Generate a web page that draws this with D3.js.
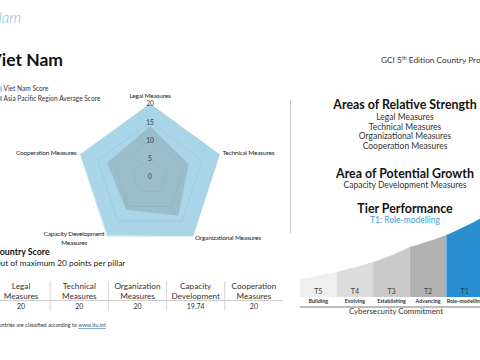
<!DOCTYPE html>
<html><head><meta charset="utf-8">
<script src="https://cdn.jsdelivr.net/npm/d3@7"></script>
<style>
html,body{margin:0;padding:0;background:#fff;overflow:hidden}
svg{display:block;font-family:Lato,"Open Sans",sans-serif}
</style></head>
<body>
<svg id="c" width="480" height="360"></svg>
<script>
// ---- data ----
const pillars = ["Legal Measures","Technical Measures","Organizational Measures","Capacity Development Measures","Cooperation Measures"];
const countryScores = [20, 20, 20, 19.74, 20];
const regionAverage = [14, 11.2, 13.1, 11.1, 12.4];
const radialTicks = [0, 5, 10, 15, 20];
const tableHeaders = [["Legal","Measures"],["Technical","Measures"],["Organization","Measures"],["Capacity","Development"],["Cooperation","Measures"]];
const tableValues = ["20","20","20","19.74","20"];
const strengths = ["Legal Measures","Technical Measures","Organizational Measures","Cooperation Measures"];
const growth = ["Capacity Development Measures"];
const tiers = ["T5","T4","T3","T2","T1"];
const tierNames = ["Building","Evolving","Establishing","Advancing","Role-modelling"];
const commitmentCurve = [5.8, 8.1, 11.3, 16.1, 20.0, 25.8]; // curve height at tier boundaries

const svg = d3.select("#c");

// ---- headers ----
svg.append("text").attr("x",21).attr("y",23).attr("text-anchor","end")
  .attr("font-size",15).attr("font-style","italic").attr("font-weight",300).attr("fill","#7db4d6").text("Viet Nam");
svg.append("text").attr("x",63).attr("y",66).attr("text-anchor","end")
  .attr("font-size",17.5).attr("font-weight",700).attr("fill","#111").text("Viet Nam");
const gci = svg.append("text").attr("x",381).attr("y",63).attr("font-size",8.3).attr("fill","#333");
gci.append("tspan").text("GCI 5");
gci.append("tspan").attr("font-size",5.2).attr("dy",-3.5).text("th");
gci.append("tspan").attr("dy",3.5).text(" Edition Country Profile");

// ---- legend ----
const legendItems = [["Viet Nam Score","#a8d6e8"],["Asia Pacific Region Average Score","#9ab6c2"]];
legendItems.forEach((d,i)=>{
  svg.append("rect").attr("x",-3).attr("y",86.5+i*9.5).attr("width",5).attr("height",5).attr("fill",d[1]);
  svg.append("text").attr("x",3.5).attr("y",91.3+i*9.5).attr("font-size",6.6).attr("fill","#333").text(d[0]);
});

// ---- radar ----
const cx = 150, cy = 177;
const r = d3.scaleLinear().domain([0,20]).range([0,73]);
const ang = d3.scaleLinear().domain([0,pillars.length]).range([0,2*Math.PI]);
const radial = d3.lineRadial().angle((d,i)=>ang(i)).radius(d=>r(d)).curve(d3.curveLinearClosed);
const rg = svg.append("g").attr("transform",`translate(${cx},${cy})`);

rg.append("path").attr("d",radial(countryScores)).attr("fill","#a8d6e8");
radialTicks.slice(1).forEach(t=>{
  rg.append("path").attr("d",radial(pillars.map(()=>t))).attr("fill","none")
    .attr("stroke","#93bfcf").attr("stroke-width",0.5);
});
rg.append("path").attr("d",radial(regionAverage)).attr("fill","#7a7a7a").attr("fill-opacity",0.27);

radialTicks.forEach(t=>{
  rg.append("text").attr("x",0).attr("y",-r(t)+2.3).attr("text-anchor","middle")
    .attr("font-size",6.6).attr("fill","#2c3e50").text(t);
});

// axis labels
const labelPos = [
  {a:"middle", dx:0, dy:-6},
  {a:"start", dx:3, dy:1},
  {a:"start", dx:2, dy:4},
  {a:"middle", dx:-33, dy:0},
  {a:"end", dx:-4, dy:1}
];
pillars.forEach((p,i)=>{
  const a = ang(i), R = r(20);
  const x = R*Math.sin(a), y = -R*Math.cos(a);
  const lp = labelPos[i];
  const t = rg.append("text").attr("x",x+lp.dx).attr("y",y+lp.dy).attr("text-anchor",lp.a)
    .attr("font-size",6.5).attr("fill","#222").attr("letter-spacing",-0.2);
  if(i===3){
    t.append("tspan").attr("x",x+lp.dx).text("Capacity Development");
    t.append("tspan").attr("x",x+lp.dx).attr("dy",9).text("Measures");
  } else t.text(p);
});

// separator
svg.append("line").attr("x1",290.5).attr("x2",290.5).attr("y1",100).attr("y2",233).attr("stroke","#c8c8c8").attr("stroke-width",1);

// ---- right panel ----
const rc = 405;
function heading(txt,y){ svg.append("text").attr("x",rc).attr("y",y).attr("text-anchor","middle").attr("font-size",12.4).attr("font-weight",700).attr("fill","#111").text(txt); }
function line(txt,y,col){ svg.append("text").attr("x",rc).attr("y",y).attr("text-anchor","middle").attr("font-size",8.5).attr("fill",col||"#333").text(txt); }
heading("Areas of Relative Strength",108.5);
strengths.forEach((s,i)=>line(s,120+i*9.7));
heading("Area of Potential Growth",178);
growth.forEach((s,i)=>line(s,187.5));
heading("Tier Performance",213);
line("T1: Role-modelling",223,"#3d9bd6");

// tier chart
const tx = d3.scaleLinear().domain([0,5]).range([300,483]);
const ty = d3.scaleLinear().domain([0,20]).range([297,235]);
const tierColors = ["#efefef","#dcdcdc","#c9c9c9","#b1b1b1","#2a8fd0"];
const tg = svg.append("g");
tiers.forEach((t,i)=>{
  const x0 = tx(i), x1 = tx(i+1);
  const pts = d3.range(0,11).map(k=>{
    const f = k/10;
    const v = commitmentCurve[i]*Math.pow(commitmentCurve[i+1]/commitmentCurve[i],f);
    return [tx(i+f), ty(v)];
  });
  const area = d3.area().x(d=>d[0]).y0(ty(0)).y1(d=>d[1]);
  tg.append("path").attr("d",area(pts)).attr("fill",tierColors[i]);
  tg.append("text").attr("x",(x0+x1)/2).attr("y",293.5).attr("text-anchor","middle")
    .attr("font-size",7).attr("fill", i===4?"#1d3c5a":"#444").text(t);
  tg.append("text").attr("x",(x0+x1)/2).attr("y",303).attr("text-anchor","middle")
    .attr("font-size",5.4).attr("fill","#333").attr("font-weight",700).text(tierNames[i]);
});
svg.append("line").attr("x1",300).attr("x2",480).attr("y1",307).attr("y2",307).attr("stroke","#555").attr("stroke-width",0.8);
svg.append("text").attr("x",396).attr("y",314).attr("text-anchor","middle").attr("font-size",7.8).attr("fill","#333").text("Cybersecurity Commitment");

// ---- country score table ----
svg.append("text").attr("x",-6).attr("y",255).attr("font-size",8.8).attr("font-weight",700).attr("fill","#111").text("Country Score");
svg.append("text").attr("x",-6).attr("y",265.5).attr("font-size",8.3).attr("fill","#222").text("Out of maximum 20 points per pillar");

const col = d3.scaleBand().domain(d3.range(tableHeaders.length)).range([-8,283]);
tableHeaders.forEach((h,i)=>{
  const x = col(i)+col.bandwidth()/2;
  svg.append("text").attr("x",x).attr("y",289).attr("text-anchor","middle").attr("font-size",8.2).attr("fill","#333").text(h[0]);
  svg.append("text").attr("x",x).attr("y",298.5).attr("text-anchor","middle").attr("font-size",8.2).attr("fill","#333").text(h[1]);
  svg.append("text").attr("x",x).attr("y",309).attr("text-anchor","middle").attr("font-size",7).attr("fill","#333").text(tableValues[i]);
  if(i>0) svg.append("line").attr("x1",col(i)).attr("x2",col(i)).attr("y1",281).attr("y2",311).attr("stroke","#ccc").attr("stroke-width",0.8);
});
svg.append("line").attr("x1",0).attr("x2",283).attr("y1",300.5).attr("y2",300.5).attr("stroke","#ccc").attr("stroke-width",1);

const fn = svg.append("text").attr("x",-8).attr("y",327).attr("font-size",5.4).attr("fill","#333");
fn.append("tspan").text("Countries are classified according to ");
fn.append("tspan").attr("fill","#2a5d8f").attr("text-decoration","underline").text("www.itu.int");
</script>
</body></html>
